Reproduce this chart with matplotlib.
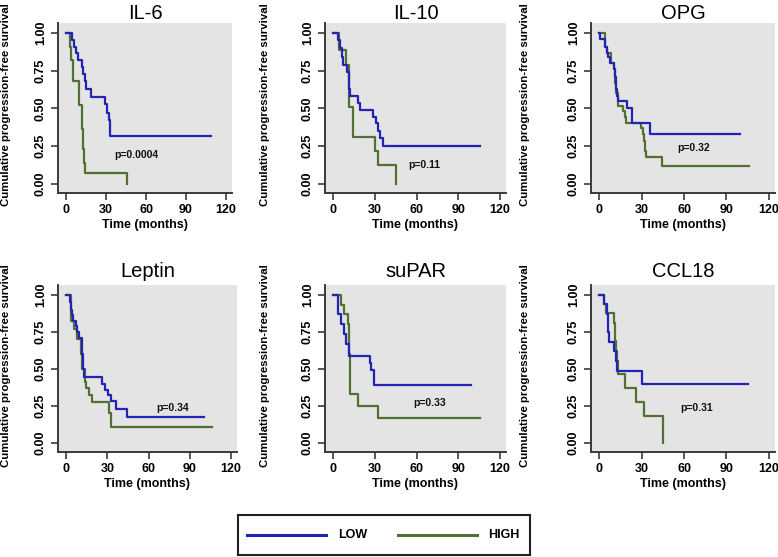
import matplotlib
matplotlib.use("Agg")
import matplotlib.pyplot as plt
from matplotlib.lines import Line2D

plt.rcParams['font.family'] = ['Liberation Sans', 'DejaVu Sans']

# ---------------- data ----------------
titles = ["IL-6", "IL-10", "OPG", "Leptin", "suPAR", "CCL18"]
p_labels = ["p=0.0004", "p=0.11", "p=0.32", "p=0.34", "p=0.33", "p=0.31"]
p_pos = [(36.5, 0.19), (54, 0.126), (55, 0.237), (66, 0.233), (58, 0.267), (57, 0.238)]

il6_low_t = [0, 4.5, 6, 7.5, 9, 12, 13, 14, 15, 18.5, 29, 31, 32, 33, 108.5]
il6_low_s = [1, 0.955, 0.91, 0.864, 0.818, 0.773, 0.727, 0.682, 0.627, 0.578, 0.527, 0.47, 0.42, 0.316, 0.316]
il6_high_t = [0, 3, 4, 5, 10, 12, 13, 13.5, 14.5, 46]
il6_high_s = [1, 0.91, 0.82, 0.684, 0.522, 0.36, 0.23, 0.14, 0.071, 0]

il10_low_t = [0, 3.6, 5, 6, 7.2, 9.7, 11, 11.5, 12, 18, 19.3, 28.5, 30.7, 32, 34, 35.5, 106]
il10_low_s = [1, 0.955, 0.9, 0.84, 0.79, 0.74, 0.7, 0.63, 0.58, 0.535, 0.49, 0.44, 0.40, 0.35, 0.30, 0.248, 0.248]
il10_high_t = [0, 4, 9, 11, 11.5, 14, 30, 32, 45]
il10_high_s = [1, 0.89, 0.79, 0.66, 0.51, 0.31, 0.22, 0.125, 0]

opg_low_t = [0, 0.5, 3.6, 5, 6, 7.7, 10, 10.8, 11.6, 12, 12.5, 13.3, 19.8, 23.4, 36, 99.5]
opg_low_s = [1, 0.96, 0.91, 0.87, 0.84, 0.80, 0.76, 0.71, 0.67, 0.63, 0.58, 0.546, 0.50, 0.40, 0.33, 0.33]
opg_high_t = [0, 4, 5.3, 8.5, 10, 11.3, 12, 13, 17, 18, 19, 29.5, 30.7, 31.4, 32.4, 33, 44.7, 106]
opg_high_s = [1, 0.91, 0.87, 0.80, 0.76, 0.67, 0.60, 0.518, 0.48, 0.44, 0.40, 0.37, 0.33, 0.28, 0.22, 0.177, 0.115, 0.115]

leptin_low_t = [0, 2.7, 3.2, 3.9, 4.9, 6.8, 8, 9.2, 11.7, 12.4, 12.9, 26.3, 28.2, 30.4, 32.4, 36, 44.5, 100.5]
leptin_low_s = [1, 0.95, 0.9, 0.86, 0.82, 0.79, 0.75, 0.71, 0.6, 0.5, 0.444, 0.40, 0.36, 0.322, 0.28, 0.229, 0.173, 0.173]
leptin_high_t = [0, 3.2, 3.7, 5.5, 7.5, 10.5, 11.7, 13.4, 14.4, 16.5, 19, 31, 32.8, 106.5]
leptin_high_s = [1, 0.91, 0.82, 0.77, 0.70, 0.6, 0.5, 0.41, 0.37, 0.322, 0.278, 0.2, 0.107, 0.107]

supar_low_t = [0, 3.1, 3.6, 5.6, 7.5, 9, 11.4, 26.6, 27.3, 29, 99.5]
supar_low_s = [1, 0.933, 0.867, 0.80, 0.733, 0.667, 0.584, 0.54, 0.49, 0.39, 0.39]
supar_high_t = [0, 5.6, 8, 10.4, 11, 11.4, 12.3, 18.1, 32, 106]
supar_high_s = [1, 0.933, 0.867, 0.80, 0.733, 0.6, 0.333, 0.251, 0.167, 0.167]

ccl18_low_t = [0, 3.4, 5.3, 6, 6.5, 10, 11.4, 12.6, 30, 105.5]
ccl18_low_s = [1, 0.94, 0.87, 0.75, 0.68, 0.62, 0.55, 0.482, 0.40, 0.40]
ccl18_high_t = [0, 3.4, 4.8, 10, 10.7, 11.4, 12.3, 13.3, 17.9, 26, 31.9, 45.2]
ccl18_high_s = [1, 0.94, 0.878, 0.81, 0.69, 0.62, 0.55, 0.467, 0.367, 0.273, 0.182, 0]

low_series = [(il6_low_t, il6_low_s), (il10_low_t, il10_low_s), (opg_low_t, opg_low_s),
              (leptin_low_t, leptin_low_s), (supar_low_t, supar_low_s), (ccl18_low_t, ccl18_low_s)]
high_series = [(il6_high_t, il6_high_s), (il10_high_t, il10_high_s), (opg_high_t, opg_high_s),
               (leptin_high_t, leptin_high_s), (supar_high_t, supar_high_s), (ccl18_high_t, ccl18_high_s)]

x_ticks = [0, 30, 60, 90, 120]
y_ticks = [0, 0.25, 0.5, 0.75, 1.0]
y_ticklabels = ["0.00", "0.25", "0.50", "0.75", "1.00"]

LOW_COLOR = "#2323b4"
HIGH_COLOR = "#527034"
BG = "#e4e4e4"
SPINE = "#3a3a3a"

W, H = 778, 557
fig = plt.figure(figsize=(W / 100, H / 100), dpi=100)

# panel boxes in pixels: left, right, top, bottom
boxes = [(58, 232, 23, 193), (325, 506, 23, 193), (591, 775, 23, 193),
         (58, 237, 285, 452), (325, 506, 285, 452), (591, 775, 285, 452)]
ylabel_x = [6, 265, 525, 6, 265, 525]

for i, (l, r, t, b) in enumerate(boxes):
    ax = fig.add_axes([l / W, 1 - b / H, (r - l) / W, (b - t) / H])
    ax.set_facecolor(BG)
    lt, ls = low_series[i]
    ht, hs = high_series[i]
    ax.step(ht, hs, where='post', color=HIGH_COLOR, lw=1.6, zorder=3)
    ax.step(lt, ls, where='post', color=LOW_COLOR, lw=1.6, zorder=4)
    ax.set_xlim(-6, 124.5)
    ax.set_ylim(-0.062, 1.066)
    ax.set_xticks(x_ticks)
    ax.set_xticklabels([str(v) for v in x_ticks], fontsize=9, fontweight='bold')
    ax.set_yticks(y_ticks)
    ax.set_yticklabels(y_ticklabels, fontsize=9, fontweight='bold', rotation=90, va='center')
    ax.tick_params(axis='both', direction='out', length=5, width=1.2, color=SPINE, pad=3)
    for side in ['top', 'right']:
        ax.spines[side].set_visible(False)
    for side in ['left', 'bottom']:
        ax.spines[side].set_color(SPINE)
        ax.spines[side].set_linewidth(1.4)
    ax.set_title(titles[i], fontsize=14.5, pad=3 if i < 3 else 6)
    ax.set_xlabel("Time (months)", fontsize=9, fontweight='bold', labelpad=2)
    px, py = p_pos[i]
    ax.text(px, py, p_labels[i], fontsize=7.5, fontweight='bold', ha='left', va='center', color='#111111')
    yc = (t + b) / 2 - 3
    fig.text(ylabel_x[i] / W, 1 - yc / H, "Cumulative progression-free survival",
             rotation=90, ha='center', va='center', fontsize=8.2, fontweight='bold')

# legend box
lax = fig.add_axes([238 / W, 1 - 555 / H, (530 - 238) / W, 40 / H])
lax.set_xlim(238, 530)
lax.set_ylim(555, 515)
lax.set_xticks([])
lax.set_yticks([])
for s in lax.spines.values():
    s.set_color("#222222")
    s.set_linewidth(1.5)
lax.add_line(Line2D([247, 326], [535, 535], color=LOW_COLOR, lw=2.2))
lax.text(338, 535, "LOW", fontsize=9, fontweight='bold', va='center', ha='left')
lax.add_line(Line2D([398, 477], [535, 535], color=HIGH_COLOR, lw=2.2))
lax.text(488, 535, "HIGH", fontsize=9, fontweight='bold', va='center', ha='left')

fig.savefig("out.png", dpi=100, facecolor='white')
